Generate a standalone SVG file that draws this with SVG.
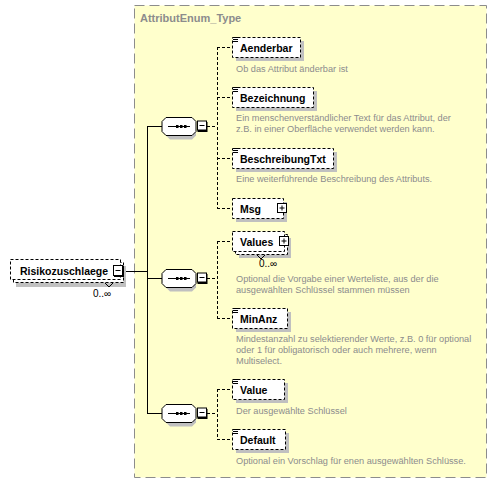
<svg xmlns="http://www.w3.org/2000/svg" width="496" height="484" viewBox="0 0 496 484">
<style>
.grp{fill:#FFFFCC;stroke:#8C8C8C;stroke-width:1;stroke-dasharray:10,5}
.ttl{font-family:"Liberation Sans",Arial,sans-serif;font-size:11px;font-weight:bold;fill:#8C8C8C}
.box{fill:#FFFFFF;stroke:#000;stroke-width:1;stroke-dasharray:3,2}
.shd{fill:#C0C0C0}
.lbl{font-family:"Liberation Sans",Arial,sans-serif;font-size:10.5px;font-weight:bold;fill:#000}
.dsc{font-family:"Liberation Sans",Arial,sans-serif;font-size:9.2px;fill:#8C8C8C}
.occ{font-family:"Liberation Sans",Arial,sans-serif;font-size:10px;fill:#000}
.ln{stroke:#000;stroke-width:1;fill:none}
.dl{stroke:#000;stroke-width:1;fill:none;stroke-dasharray:3,2}
.btn{fill:#fff;stroke:#000;stroke-width:1}
.oct{fill:#fff;stroke:#000;stroke-width:1}
.ic{stroke:#000;stroke-width:1}
</style>
<defs>
<g id="seq">
<path class="shd" d="M8,-5 L30,-5 L34,-1 L34,9 L30,13 L8,13 L4,9 L4,-1 Z"/>
<path class="oct" d="M4,-9 L30,-9 L34,-5 L34,5 L30,9 L4,9 L0,5 L0,-5 Z"/>
<line class="ln" x1="6" y1="0" x2="28" y2="0"/>
<rect x="14" y="-1.5" width="2.5" height="3" fill="#000"/>
<rect x="18" y="-1.5" width="2.5" height="3" fill="#000"/>
<rect x="22" y="-1.5" width="2.5" height="3" fill="#000"/>
<rect x="35.5" y="-4.5" width="10" height="10" fill="#000"/>
<rect class="btn" x="35.5" y="-5.5" width="9" height="9"/>
<line class="ln" x1="37.5" y1="-1" x2="42.5" y2="-1"/>
</g>
<g id="plus">
<rect x="1" y="1" width="9" height="9" fill="#000"/>
<rect class="btn" x="0.5" y="0.5" width="9" height="9"/>
<line class="ln" x1="2.5" y1="5" x2="7.5" y2="5"/>
<line class="ln" x1="5" y1="2.5" x2="5" y2="7.5"/>
</g>
<g id="icon">
<line class="ic" x1="0" y1="0.5" x2="5" y2="0.5"/>
<line class="ic" x1="0" y1="2.5" x2="5" y2="2.5"/>
<line class="ic" x1="0" y1="4.5" x2="5" y2="4.5"/>
</g>
</defs>

<g id="AttributEnum_Type">
<rect class="grp" x="134.5" y="5.5" width="352" height="472"/>
<text class="ttl" x="140" y="22">AttributEnum_Type</text>
</g>

<g id="connectors">
<line class="ln" x1="124" y1="271.5" x2="147.5" y2="271.5"/>
<line class="ln" x1="147.5" y1="126" x2="147.5" y2="413"/>
<line class="ln" x1="147" y1="126.5" x2="162" y2="126.5"/>
<line class="ln" x1="147" y1="278.5" x2="162" y2="278.5"/>
<line class="ln" x1="147" y1="413.5" x2="162" y2="413.5"/>
<line class="dl" x1="207" y1="126.5" x2="217" y2="126.5"/>
<line class="dl" x1="217.5" y1="47" x2="217.5" y2="208"/>
<line class="dl" x1="217" y1="47.5" x2="232" y2="47.5"/>
<line class="dl" x1="217" y1="97.5" x2="232" y2="97.5"/>
<line class="dl" x1="217" y1="158.5" x2="232" y2="158.5"/>
<line class="dl" x1="217" y1="208.5" x2="232" y2="208.5"/>
<line class="dl" x1="207" y1="278.5" x2="217" y2="278.5"/>
<line class="dl" x1="217.5" y1="241" x2="217.5" y2="318"/>
<line class="dl" x1="217" y1="241.5" x2="232" y2="241.5"/>
<line class="dl" x1="217" y1="318.5" x2="232" y2="318.5"/>
<line class="dl" x1="207" y1="413.5" x2="217" y2="413.5"/>
<line class="dl" x1="217.5" y1="389" x2="217.5" y2="439"/>
<line class="dl" x1="217" y1="389.5" x2="232" y2="389.5"/>
<line class="dl" x1="217" y1="439.5" x2="232" y2="439.5"/>
</g>

<g id="Risikozuschlaege">
<rect class="shd" x="16" y="266" width="110" height="21"/>
<rect class="box" x="13.5" y="262.5" width="110" height="20"/>
<rect class="box" x="10.5" y="259.5" width="110" height="20"/>
<text class="lbl" x="20" y="275">Risikozuschlaege</text>
<path class="ln" d="M105,283 L109,287 L113,283"/>
<rect x="114" y="266" width="10" height="11" fill="#000"/>
<rect class="btn" x="113.5" y="265.5" width="9" height="10"/>
<line class="ln" x1="115.5" y1="270.5" x2="120.5" y2="270.5"/>
<text class="occ" x="93" y="297">0..∞</text>
</g>

<g id="seq1"><use href="#seq" x="162" y="126.5"/></g>
<g id="seq2"><use href="#seq" x="162" y="278.5"/></g>
<g id="seq3"><use href="#seq" x="162" y="413.5"/></g>

<g id="Aenderbar">
<rect class="shd" x="236" y="41" width="68" height="20"/>
<rect class="box" x="232.5" y="37.5" width="68" height="20"/>
<use href="#icon" x="233" y="37"/>
<text class="lbl" x="240" y="52">Aenderbar</text>
<text class="dsc" x="236" y="72">Ob das Attribut änderbar ist</text>
</g>

<g id="Bezeichnung">
<rect class="shd" x="236" y="91" width="81" height="20"/>
<rect class="box" x="232.5" y="87.5" width="81" height="20"/>
<use href="#icon" x="233" y="87"/>
<text class="lbl" x="240" y="102">Bezeichnung</text>
<text class="dsc" x="236" y="121">Ein menschenverständlicher Text für das Attribut, der</text>
<text class="dsc" x="236" y="132">z.B. in einer Oberfläche verwendet werden kann.</text>
</g>

<g id="BeschreibungTxt">
<rect class="shd" x="236" y="152" width="101" height="20"/>
<rect class="box" x="232.5" y="148.5" width="101" height="20"/>
<use href="#icon" x="233" y="148"/>
<text class="lbl" x="240" y="163">BeschreibungTxt</text>
<text class="dsc" x="236" y="182">Eine weiterführende Beschreibung des Attributs.</text>
</g>

<g id="Msg">
<rect class="shd" x="236" y="202" width="51" height="20"/>
<rect class="box" x="232.5" y="198.5" width="51" height="20"/>
<text class="lbl" x="240" y="213">Msg</text>
<use href="#plus" x="277" y="203"/>
</g>

<g id="Values">
<rect class="shd" x="239" y="238" width="52" height="20"/>
<rect class="box" x="235.5" y="234.5" width="52" height="20"/>
<rect class="box" x="232.5" y="231.5" width="52" height="20"/>
<path class="ln" d="M257,255 L261,259 L265,255"/>
<text class="lbl" x="240" y="246">Values</text>
<use href="#plus" x="279" y="236"/>
<text class="occ" x="259" y="267">0..∞</text>
<text class="dsc" x="236" y="282">Optional die Vorgabe einer Werteliste, aus der die</text>
<text class="dsc" x="236" y="293">ausgewählten Schlüssel stammen müssen</text>
</g>

<g id="MinAnz">
<rect class="shd" x="236" y="312" width="55" height="20"/>
<rect class="box" x="232.5" y="308.5" width="55" height="20"/>
<use href="#icon" x="233" y="308"/>
<text class="lbl" x="240" y="323">MinAnz</text>
<text class="dsc" x="236" y="342">Mindestanzahl zu selektierender Werte, z.B. 0 für optional</text>
<text class="dsc" x="236" y="353">oder 1 für obligatorisch oder auch mehrere, wenn</text>
<text class="dsc" x="236" y="364">Multiselect.</text>
</g>

<g id="Value">
<rect class="shd" x="236" y="383" width="52" height="20"/>
<rect class="box" x="232.5" y="379.5" width="52" height="20"/>
<use href="#icon" x="233" y="379"/>
<text class="lbl" x="240" y="394">Value</text>
<text class="dsc" x="236" y="414">Der ausgewählte Schlüssel</text>
</g>

<g id="Default">
<rect class="shd" x="236" y="433" width="53" height="20"/>
<rect class="box" x="232.5" y="429.5" width="53" height="20"/>
<use href="#icon" x="233" y="429"/>
<text class="lbl" x="240" y="444">Default</text>
<text class="dsc" x="236" y="464">Optional ein Vorschlag für enen ausgewählten Schlüsse.</text>
</g>
</svg>
